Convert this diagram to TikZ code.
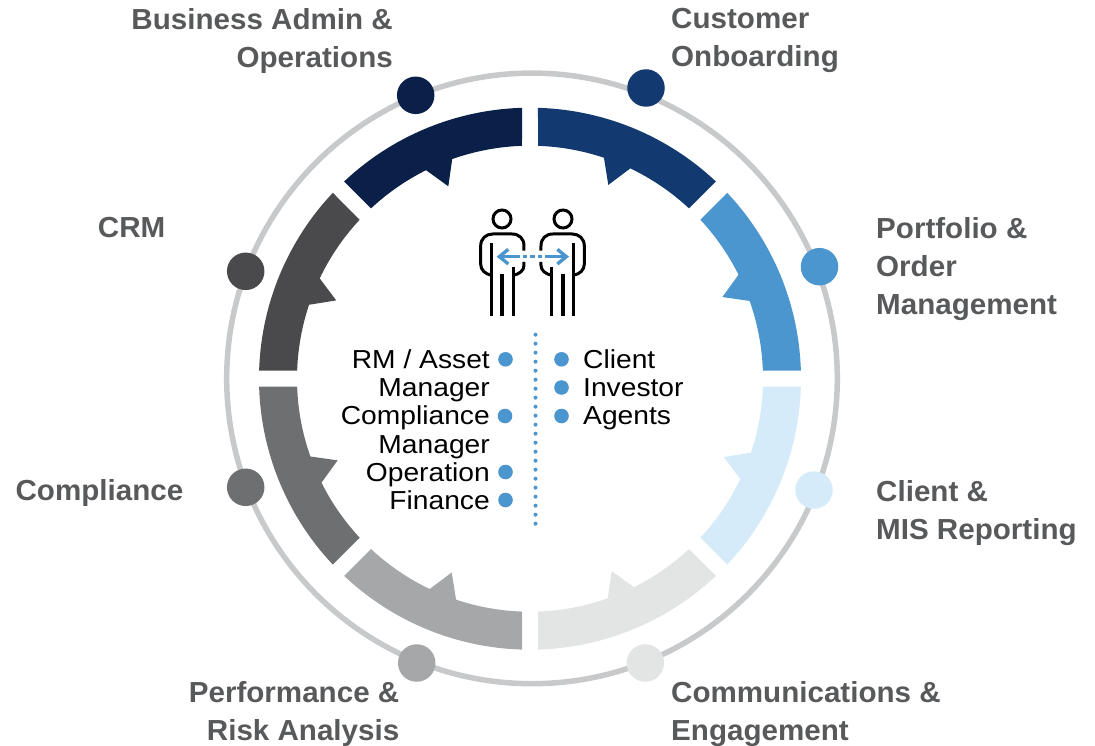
\documentclass[tikz,border=0pt]{standalone}
\usepackage{fontspec}
\setmainfont{Liberation Sans}
\newfontfamily\headf[FakeStretch=1.02]{Liberation Sans Bold}
\newfontfamily\bodyf[FakeStretch=1.085]{Liberation Sans}
\definecolor{cnavy}{HTML}{0B2048}
\definecolor{cblue}{HTML}{133A70}
\definecolor{csky}{HTML}{4B96CE}
\definecolor{cpale}{HTML}{D5EBFA}
\definecolor{cmist}{HTML}{E3E4E4}
\definecolor{cmid}{HTML}{A6A7A9}
\definecolor{cslate}{HTML}{6E6F71}
\definecolor{cdark}{HTML}{4A4A4C}
\definecolor{cring}{HTML}{C8C9CA}
\definecolor{chead}{HTML}{58595B}
\tikzset{
  x=1pt,y=1pt,
  ringdot/.style={circle,draw=none,minimum size=37.5pt,inner sep=0pt},
  listdot/.style={circle,fill=csky,draw=none,minimum size=14.6pt,inner sep=0pt},
  headl/.style={inner sep=0pt,font=\headf\fontsize{29}{38}\selectfont,text=chead,
    execute at begin node=\rule{0pt}{25pt}},
  headr/.style={headl,anchor=north east,align=right},
  headL/.style={headl,anchor=north west,align=left},
  bodyl/.style={inner sep=0pt,font=\bodyf\fontsize{26}{28.2}\selectfont,text=black,
    execute at begin node=\rule{0pt}{22pt}},
  person/.style={line width=3pt,draw=black,line cap=butt},
  arrowline/.style={line width=3.4pt,draw=csky},
}
\begin{document}
\begin{tikzpicture}
\useasboundingbox (0,0) rectangle (1095,-746);
% ring
\draw[cring,line width=5.5pt] (532,-378.4) circle[radius=305.3];
% segments
\foreach \k/\c in {0/cblue,1/csky,2/cpale,3/cmist,4/cmid,5/cslate,6/cdark,7/cnavy}{
  \begin{scope}[shift={(530,-378.7)},rotate=-45*\k]
    \fill[\c] (88.31:271) arc[start angle=88.31,end angle=46.69,radius=271]
      -- (46.97:233) arc[start angle=46.97,end angle=64.5,radius=233]
      -- (68:209) -- (71.5:233) arc[start angle=71.5,end angle=88.03,radius=233] -- cycle;
  \end{scope}
}
% ring dots
\node[ringdot,fill=cblue]  (d1) at (646,-88) {};
\node[ringdot,fill=csky]   (d2) at (819.5,-266.7) {};
\node[ringdot,fill=cpale]  (d3) at (814,-490) {};
\node[ringdot,fill=cmist]  (d4) at (645.3,-663) {};
\node[ringdot,fill=cmid]   (d5) at (416.7,-663) {};
\node[ringdot,fill=cslate] (d6) at (245.7,-487.3) {};
\node[ringdot,fill=cdark]  (d7) at (245.7,-271.3) {};
\node[ringdot,fill=cnavy]  (d8) at (415.7,-95.3) {};
% outer labels
\node[headr] (l8) at (393,-8.5) {Business Admin \&\\Operations};
\node[headL] (l1) at (671,-8.5) {Customer\\Onboarding};
\node[headr] (l7) at (165.5,-212.5) {CRM};
\node[headL] (l2) at (876,-217) {Portfolio \&\\Order\\Management};
\node[headr] (l6) at (183.5,-475) {Compliance};
\node[headL] (l3) at (876,-480) {Client \&\\MIS Reporting};
\node[headr] (l5) at (399.5,-681) {Performance \&\\Risk Analysis};
\node[headL] (l4) at (671,-681) {Communications \&\\Engagement};
% people
\begin{scope}[shift={(440,-190)},x=0.3333pt,y=-0.3333pt]
  \foreach \m/\o in {1/0,-1/555}{
    \begin{scope}[shift={(\o,0)},xscale=\m]
      \draw[person] (186,87) circle[radius=27];
      \draw[person] (155,256) .. controls (135,252) and (122,240) .. (122,222)
        -- (122,168) .. controls (122,146) and (138,132) .. (158,132)
        -- (216,132) .. controls (238,132) and (252,146) .. (252,168) -- (252,182);
      \draw[person] (252,216) -- (252,226) .. controls (252,242) and (238,252) .. (220,256);
      \draw[person] (155,160) -- (155,378);
      \draw[person,line width=4pt] (186,252) -- (186,378);
      \draw[person] (220,232) -- (220,378);
    \end{scope}
  }
  \draw[arrowline] (240,200) -- (182,200);
  \draw[arrowline,line join=miter] (205,178) -- (178,200) -- (205,222);
  \draw[arrowline] (315,200) -- (373,200);
  \draw[arrowline,line join=miter] (352,178) -- (379,200) -- (352,222);
  \draw[arrowline] (250,200) -- (262,200);
  \draw[arrowline] (271,200) -- (285,200);
  \draw[arrowline] (295,200) -- (307,200);
\end{scope}
% dotted divider
\coordinate (divtop) at (535.5,-334.7);
\coordinate (divbot) at (535.5,-529);
\draw[csky,line width=4pt,line cap=round,dash pattern=on 0pt off 9pt] (divtop) -- (divbot);
% lists
\node[bodyl,anchor=north east,align=right] (leftlist) at (490,-349.4)
  {RM / Asset\\Manager\\Compliance\\Manager\\Operation\\Finance};
\node[bodyl,anchor=north west,align=left] (rightlist) at (583,-349.4)
  {Client\\Investor\\Agents};
\node[listdot] (a1) at (505.5,-359.3) {};
\node[listdot] (a2) at (505,-416) {};
\node[listdot] (a3) at (505.5,-472) {};
\node[listdot] (a4) at (505.5,-500) {};
\node[listdot] (b1) at (561.5,-359.3) {};
\node[listdot] (b2) at (561.5,-387.5) {};
\node[listdot] (b3) at (561.5,-416) {};
\end{tikzpicture}
\end{document}
